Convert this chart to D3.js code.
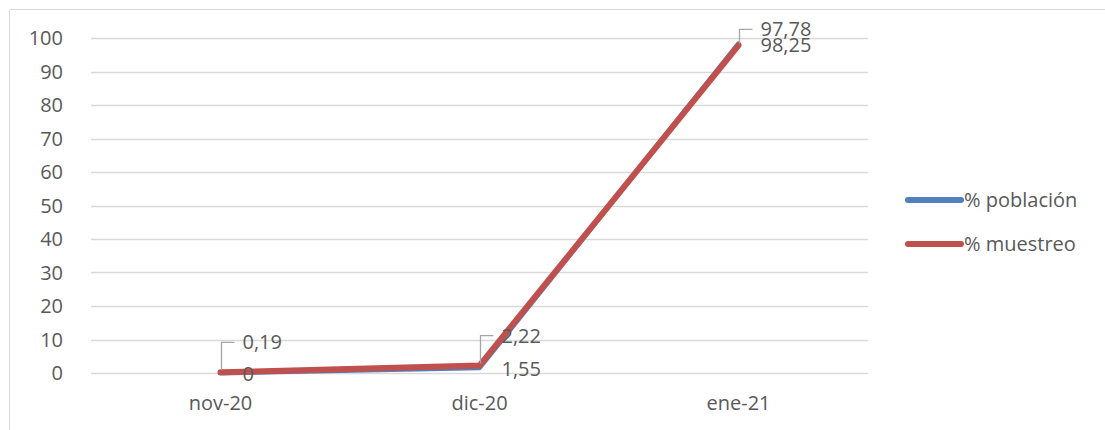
<!DOCTYPE html>
<html><head><meta charset="utf-8">
<script src="https://cdn.jsdelivr.net/npm/d3@7"></script>
<style>body{margin:0;background:#fff}svg{display:block}text{font-family:"Open Sans",Lato,sans-serif;fill:#595959}</style>
</head><body>
<svg id="c" width="1105" height="430"></svg>
<script>
const categories = ["nov-20", "dic-20", "ene-21"];
const poblacion = [0, 1.55, 98.25];
const muestreo = [0.19, 2.22, 97.78];
const seriesNames = ["% población", "% muestreo"];
const yTicks = [0, 10, 20, 30, 40, 50, 60, 70, 80, 90, 100];

const svg = d3.select("#c");
const x = d3.scaleBand().domain(categories).range([91, 868]);
const y = d3.scaleLinear().domain([0, 100]).range([373, 38]);
const cx = c => x(c) + x.bandwidth() / 2;
const fs = 20;

// frame
svg.append("path").attr("d", "M9.5,430 V9.5 H1105").attr("fill", "none").attr("stroke", "#d9d9d9");

// gridlines
svg.append("g").selectAll("line").data(yTicks).join("line")
  .attr("x1", 91).attr("x2", 868).attr("y1", d => Math.round(y(d)) + 0.5).attr("y2", d => Math.round(y(d)) + 0.5)
  .attr("stroke", "#d9d9d9").attr("stroke-width", 1.3);

// y labels
svg.append("g").selectAll("text").data(yTicks).join("text")
  .attr("x", 63).attr("y", d => y(d)).attr("dy", "0.35em").attr("text-anchor", "end")
  .attr("font-size", fs).text(d => d);

// x labels
svg.append("g").selectAll("text").data(categories).join("text")
  .attr("x", d => cx(d)).attr("y", 403).attr("dy", "0.35em").attr("text-anchor", "middle")
  .attr("font-size", fs).text(d => d);

const line = d3.line().x((d, i) => cx(categories[i])).y(d => y(d));
svg.append("path").datum(poblacion).attr("d", line).attr("fill", "none")
  .attr("stroke", "#4F81BD").attr("stroke-width", 5).attr("stroke-linecap", "round").attr("stroke-linejoin", "round");
svg.append("path").datum(muestreo).attr("d", line).attr("fill", "none")
  .attr("stroke", "#C0504D").attr("stroke-width", 6).attr("stroke-linecap", "round").attr("stroke-linejoin", "round");

const fmt = v => String(v).replace(".", ",");
const gl = svg.append("g");
// labels for poblacion (right of point)
poblacion.forEach((v, i) => {
  const px = cx(categories[i]);
  gl.append("text").attr("x", px + 22).attr("y", y(v) + 1).attr("dy", "0.35em")
    .attr("font-size", fs).text(fmt(v));
});
// labels for muestreo (moved up, with leader lines)
muestreo.forEach((v, i) => {
  const px = cx(categories[i]);
  const py = y(v);
  const rise = [30, 30, 16][i];
  const ly = py - rise;
  gl.append("path").attr("d", `M${px + 1},${py - 2} V${ly} H${px + 14}`)
    .attr("fill", "none").attr("stroke", "#a6a6a6").attr("stroke-width", 1.3);
  gl.append("text").attr("x", px + 22).attr("y", ly).attr("dy", "0.35em")
    .attr("font-size", fs).text(fmt(v));
});

// legend
const leg = svg.append("g");
const legY = [200, 244];
const legCol = ["#4F81BD", "#C0504D"];
seriesNames.forEach((n, i) => {
  leg.append("line").attr("x1", 908).attr("x2", 961).attr("y1", legY[i]).attr("y2", legY[i])
    .attr("stroke", legCol[i]).attr("stroke-width", 6).attr("stroke-linecap", "round");
  leg.append("text").attr("x", 964).attr("y", legY[i]).attr("dy", "0.35em").attr("font-size", fs).text(n);
});
</script>
</body></html>
